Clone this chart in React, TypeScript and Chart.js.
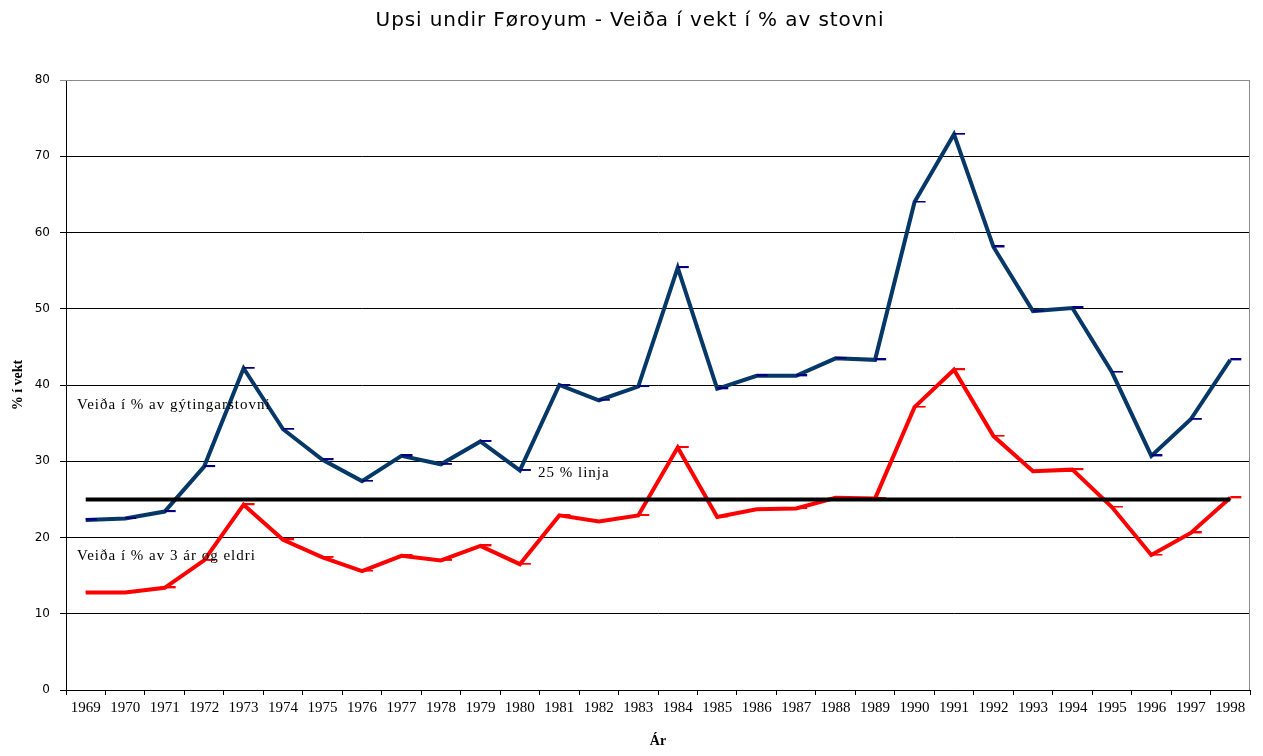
import React, { useEffect, useRef } from "react";
import { Chart, registerables } from "chart.js";

Chart.register(...registerables);

const TITLE = "Upsi undir Føroyum - Veiða í vekt í % av stovni";
const Y_TITLE = "% í vekt";
const X_TITLE = "Ár";

const years = [
  "1969", "1970", "1971", "1972", "1973", "1974", "1975", "1976", "1977", "1978",
  "1979", "1980", "1981", "1982", "1983", "1984", "1985", "1986", "1987", "1988",
  "1989", "1990", "1991", "1992", "1993", "1994", "1995", "1996", "1997", "1998",
];

const spawningStockPct = [
  22.3, 22.5, 23.4, 29.3, 42.2, 34.2, 30.2, 27.4, 30.7, 29.6,
  32.6, 28.8, 40.0, 38.0, 39.8, 55.4, 39.5, 41.2, 41.2, 43.5,
  43.3, 64.0, 72.9, 58.1, 49.7, 50.1, 41.7, 30.7, 35.5, 43.3,
];

const age3PlusPct = [
  12.8, 12.8, 13.4, 17.0, 24.3, 19.7, 17.4, 15.6, 17.6, 17.0,
  18.9, 16.5, 22.9, 22.1, 22.9, 31.8, 22.7, 23.7, 23.8, 25.2,
  25.1, 37.1, 42.0, 33.3, 28.7, 28.9, 24.0, 17.7, 20.6, 25.2,
];

const limit25 = [
  25, 25, 25, 25, 25, 25, 25, 25, 25, 25,
  25, 25, 25, 25, 25, 25, 25, 25, 25, 25,
  25, 25, 25, 25, 25, 25, 25, 25, 25, 25,
];

const yTicks = [0, 10, 20, 30, 40, 50, 60, 70, 80];

// text labels: [text, value on y axis, pixel offset from chart-area left]
const labelTexts = ["Veiða í % av gýtingarstovni", "25 % linja", "Veiða í % av 3 ár og eldri"];
const labelValues = [37.4, 28.5, 17.6];
const labelOffsets = [11, 472, 11];

function makeDash(color: string): HTMLCanvasElement {
  const c = document.createElement("canvas");
  c.width = 24;
  c.height = 3;
  const g = c.getContext("2d")!;
  g.fillStyle = color;
  g.fillRect(12, 0, 11, 2);
  return c;
}

export default function App() {
  const ref = useRef<HTMLCanvasElement | null>(null);

  useEffect(() => {
    const canvas = ref.current;
    if (!canvas) return;

    const titlePlugin = {
      id: "customTitle",
      afterDraw(chart: any) {
        const ctx = chart.ctx;
        ctx.save();
        ctx.fillStyle = "#000";
        ctx.font = "20px 'DejaVu Sans'";
        (ctx as any).letterSpacing = "0.9px";
        ctx.textAlign = "center";
        ctx.textBaseline = "middle";
        ctx.fillText(TITLE, 630, 21);
        ctx.restore();
      },
    };

    const borderPlugin = {
      id: "areaBorder",
      beforeDatasetsDraw(chart: any) {
        const { left, right, top, bottom } = chart.chartArea;
        const ctx = chart.ctx;
        ctx.save();
        ctx.strokeStyle = "#8c8c8c";
        ctx.lineWidth = 1;
        ctx.beginPath();
        ctx.moveTo(left, top + 0.5);
        ctx.lineTo(right - 0.5, top + 0.5);
        ctx.lineTo(right - 0.5, bottom);
        ctx.stroke();
        ctx.restore();
      },
    };

    const textPlugin = {
      id: "textLabels",
      afterDatasetsDraw(chart: any) {
        const ctx = chart.ctx;
        const y = chart.scales.y;
        const left = chart.chartArea.left;
        ctx.save();
        ctx.fillStyle = "#000";
        ctx.font = "15px 'Liberation Serif'";
        (ctx as any).letterSpacing = "1px";
        ctx.textAlign = "left";
        ctx.textBaseline = "middle";
        labelTexts.forEach((t, i) => {
          ctx.fillText(t, left + labelOffsets[i], y.getPixelForValue(labelValues[i]));
        });
        ctx.restore();
      },
    };

    const chart = new Chart(canvas, {
      type: "line",
      data: {
        labels: years,
        datasets: [
          {
            label: "25 % linja",
            data: limit25,
            borderColor: "#000000",
            borderWidth: 4,
            pointRadius: 0,
            tension: 0,
          },
          {
            label: "Veiða í % av 3 ár og eldri",
            data: age3PlusPct,
            borderColor: "#ff0000",
            borderWidth: 4,
            pointStyle: makeDash("#ff0000"),
            pointRadius: 6,
            tension: 0,
          },
          {
            label: "Veiða í % av gýtingarstovni",
            data: spawningStockPct,
            borderColor: "#053767",
            borderWidth: 4,
            pointStyle: makeDash("#000080"),
            pointRadius: 6,
            tension: 0,
          },
        ],
      },
      options: {
        animation: false,
        responsive: false,
        devicePixelRatio: 1,
        layout: { padding: { top: 80, right: 13, left: 0, bottom: 0 } },
        plugins: {
          legend: { display: false },
          tooltip: { enabled: false },
          title: { display: false },
        },
        scales: {
          x: {
            type: "category",
            offset: true,
            grid: {
              offset: true,
              drawOnChartArea: false,
              drawTicks: true,
              tickLength: 5,
              color: "#000",
            },
            border: { display: true, color: "#000", width: 1 },
            ticks: {
              color: "#000",
              font: { family: "'Liberation Serif'", size: 15 },
              maxRotation: 0,
              autoSkip: false,
              padding: 4,
            },
            title: {
              display: true,
              text: X_TITLE,
              color: "#000",
              font: { family: "'Liberation Serif'", size: 14, weight: "bold" },
              padding: { top: 0, bottom: 6 },
            },
            afterFit(scale: any) {
              scale.height = 66;
            },
          },
          y: {
            min: 0,
            max: 80,
            afterBuildTicks(scale: any) {
              scale.ticks = yTicks.map((v) => ({ value: v }));
            },
            grid: {
              color: (ctx: any) => (ctx.tick && ctx.tick.value === 80 ? "#8c8c8c" : "#000"),
              lineWidth: 1,
              drawTicks: true,
              tickLength: 6,
            },
            border: { display: true, color: "#000", width: 1 },
            ticks: {
              color: "#000",
              font: { family: "'DejaVu Sans'", size: 12 },
              padding: 10,
            },
            title: {
              display: true,
              text: Y_TITLE,
              color: "#000",
              font: { family: "'Liberation Serif'", size: 14, weight: "bold" },
              padding: { top: 10, bottom: 0 },
            },
            afterFit(scale: any) {
              scale.width = 66;
            },
          },
        },
      },
      plugins: [titlePlugin, borderPlugin, textPlugin],
    });

    return () => chart.destroy();
  }, []);

  return (
    <div style={{ position: "absolute", left: 0, top: 0, width: 1263, height: 756, background: "#fff" }}>
      <canvas ref={ref} width={1263} height={756} style={{ display: "block" }} />
    </div>
  );
}
